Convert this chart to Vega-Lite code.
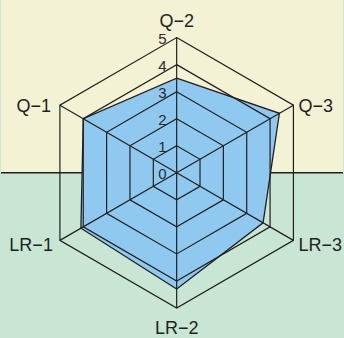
{
  "$schema": "https://vega.github.io/schema/vega-lite/v6.json",
  "width": 344,
  "height": 338,
  "autosize": {"type": "fit", "contains": "padding"},
  "padding": 0,
  "background": "#c8e6d3",
  "config": {"view": {"stroke": null}},
  "datasets": {
    "scores": [
      {"axis": "Q−2", "k": 0, "value": 3.5},
      {"axis": "Q−3", "k": 1, "value": 4.4},
      {"axis": "LR−3", "k": 2, "value": 3.7},
      {"axis": "LR−2", "k": 3, "value": 4.3},
      {"axis": "LR−1", "k": 4, "value": 4.1},
      {"axis": "Q−1", "k": 5, "value": 4.0}
    ],
    "grid": [
      {"level": 1, "k": 0}, {"level": 1, "k": 1}, {"level": 1, "k": 2}, {"level": 1, "k": 3}, {"level": 1, "k": 4}, {"level": 1, "k": 5},
      {"level": 2, "k": 0}, {"level": 2, "k": 1}, {"level": 2, "k": 2}, {"level": 2, "k": 3}, {"level": 2, "k": 4}, {"level": 2, "k": 5},
      {"level": 3, "k": 0}, {"level": 3, "k": 1}, {"level": 3, "k": 2}, {"level": 3, "k": 3}, {"level": 3, "k": 4}, {"level": 3, "k": 5},
      {"level": 4, "k": 0}, {"level": 4, "k": 1}, {"level": 4, "k": 2}, {"level": 4, "k": 3}, {"level": 4, "k": 4}, {"level": 4, "k": 5},
      {"level": 5, "k": 0}, {"level": 5, "k": 1}, {"level": 5, "k": 2}, {"level": 5, "k": 3}, {"level": 5, "k": 4}, {"level": 5, "k": 5}
    ],
    "ticks": [{"level": 0}, {"level": 1}, {"level": 2}, {"level": 3}, {"level": 4}, {"level": 5}]
  },
  "layer": [
    {
      "data": {"values": [{}]},
      "mark": {"type": "rect", "fill": "#f4f2d5"},
      "encoding": {
        "x": {"datum": -6.515, "type": "quantitative", "scale": {"domain": [-6.515, 6.169], "nice": false, "zero": false}, "axis": null},
        "x2": {"datum": 6.169},
        "y": {"datum": 0, "type": "quantitative", "scale": {"domain": [-6.073, 6.39], "nice": false, "zero": false}, "axis": null},
        "y2": {"datum": 6.39}
      }
    },
    {
      "data": {"values": [{}]},
      "mark": {"type": "rule", "stroke": "#231f20", "strokeWidth": 1.5},
      "encoding": {
        "x": {"datum": -6.515, "type": "quantitative", "scale": {"domain": [-6.515, 6.169], "nice": false, "zero": false}, "axis": null},
        "x2": {"datum": 6.169},
        "y": {"datum": 0, "type": "quantitative", "scale": {"domain": [-6.073, 6.39], "nice": false, "zero": false}, "axis": null}
      }
    },
    {
      "data": {"name": "scores"},
      "transform": [
        {"calculate": "datum.value * cos(PI / 2 - datum.k * PI / 3)", "as": "x"},
        {"calculate": "datum.value * sin(PI / 2 - datum.k * PI / 3)", "as": "y"}
      ],
      "mark": {"type": "line", "interpolate": "linear-closed", "fill": "#8fc9ef", "stroke": "#231f20", "strokeWidth": 1.3},
      "encoding": {
        "x": {"field": "x", "type": "quantitative", "scale": {"domain": [-6.515, 6.169], "nice": false, "zero": false}, "axis": null},
        "y": {"field": "y", "type": "quantitative", "scale": {"domain": [-6.073, 6.39], "nice": false, "zero": false}, "axis": null},
        "order": {"field": "k", "type": "quantitative"}
      }
    },
    {
      "data": {"name": "grid"},
      "transform": [
        {"calculate": "datum.level * cos(PI / 2 - datum.k * PI / 3)", "as": "x"},
        {"calculate": "datum.level * sin(PI / 2 - datum.k * PI / 3)", "as": "y"}
      ],
      "mark": {"type": "line", "interpolate": "linear-closed", "stroke": "#231f20", "strokeWidth": 1.2},
      "encoding": {
        "x": {"field": "x", "type": "quantitative", "scale": {"domain": [-6.515, 6.169], "nice": false, "zero": false}, "axis": null},
        "y": {"field": "y", "type": "quantitative", "scale": {"domain": [-6.073, 6.39], "nice": false, "zero": false}, "axis": null},
        "detail": {"field": "level", "type": "nominal"},
        "order": {"field": "k", "type": "quantitative"}
      }
    },
    {
      "data": {"name": "scores"},
      "transform": [
        {"calculate": "5 * cos(PI / 2 - datum.k * PI / 3)", "as": "sx"},
        {"calculate": "5 * sin(PI / 2 - datum.k * PI / 3)", "as": "sy"}
      ],
      "mark": {"type": "rule", "stroke": "#231f20", "strokeWidth": 1.2},
      "encoding": {
        "x": {"field": "sx", "type": "quantitative", "scale": {"domain": [-6.515, 6.169], "nice": false, "zero": false}, "axis": null},
        "y": {"field": "sy", "type": "quantitative", "scale": {"domain": [-6.073, 6.39], "nice": false, "zero": false}, "axis": null},
        "x2": {"datum": 0},
        "y2": {"datum": 0}
      }
    },
    {
      "data": {"name": "ticks"},
      "mark": {"type": "text", "align": "right", "baseline": "middle", "dx": -10, "dy": 1, "font": "Liberation Sans Narrow, Liberation Sans, sans-serif", "fontSize": 15, "fill": "#2b2b2b"},
      "encoding": {
        "x": {"datum": 0, "type": "quantitative", "scale": {"domain": [-6.515, 6.169], "nice": false, "zero": false}, "axis": null},
        "y": {"field": "level", "type": "quantitative", "scale": {"domain": [-6.073, 6.39], "nice": false, "zero": false}, "axis": null},
        "text": {"field": "level", "type": "quantitative"}
      }
    },
    {
      "data": {"name": "scores"},
      "transform": [
        {"filter": "datum.k == 0"},
        {"calculate": "5 * cos(PI / 2 - datum.k * PI / 3)", "as": "sx"},
        {"calculate": "5 * sin(PI / 2 - datum.k * PI / 3)", "as": "sy"}
      ],
      "mark": {"type": "text", "align": "center", "baseline": "alphabetic", "dy": -10.4, "font": "Liberation Sans", "fontSize": 18, "fill": "#231f20"},
      "encoding": {
        "x": {"field": "sx", "type": "quantitative", "scale": {"domain": [-6.515, 6.169], "nice": false, "zero": false}, "axis": null},
        "y": {"field": "sy", "type": "quantitative", "scale": {"domain": [-6.073, 6.39], "nice": false, "zero": false}, "axis": null},
        "text": {"field": "axis", "type": "nominal"}
      }
    },
    {
      "data": {"name": "scores"},
      "transform": [
        {"filter": "datum.k == 3"},
        {"calculate": "5 * cos(PI / 2 - datum.k * PI / 3)", "as": "sx"},
        {"calculate": "5 * sin(PI / 2 - datum.k * PI / 3)", "as": "sy"}
      ],
      "mark": {"type": "text", "align": "center", "baseline": "alphabetic", "dy": 26, "font": "Liberation Sans", "fontSize": 18, "fill": "#231f20"},
      "encoding": {
        "x": {"field": "sx", "type": "quantitative", "scale": {"domain": [-6.515, 6.169], "nice": false, "zero": false}, "axis": null},
        "y": {"field": "sy", "type": "quantitative", "scale": {"domain": [-6.073, 6.39], "nice": false, "zero": false}, "axis": null},
        "text": {"field": "axis", "type": "nominal"}
      }
    },
    {
      "data": {"name": "scores"},
      "transform": [
        {"filter": "datum.k == 1"},
        {"calculate": "5 * cos(PI / 2 - datum.k * PI / 3)", "as": "sx"},
        {"calculate": "5 * sin(PI / 2 - datum.k * PI / 3)", "as": "sy"}
      ],
      "mark": {"type": "text", "align": "left", "baseline": "alphabetic", "dx": 5, "dy": 6.7, "font": "Liberation Sans", "fontSize": 18, "fill": "#231f20"},
      "encoding": {
        "x": {"field": "sx", "type": "quantitative", "scale": {"domain": [-6.515, 6.169], "nice": false, "zero": false}, "axis": null},
        "y": {"field": "sy", "type": "quantitative", "scale": {"domain": [-6.073, 6.39], "nice": false, "zero": false}, "axis": null},
        "text": {"field": "axis", "type": "nominal"}
      }
    },
    {
      "data": {"name": "scores"},
      "transform": [
        {"filter": "datum.k == 2"},
        {"calculate": "5 * cos(PI / 2 - datum.k * PI / 3)", "as": "sx"},
        {"calculate": "5 * sin(PI / 2 - datum.k * PI / 3)", "as": "sy"}
      ],
      "mark": {"type": "text", "align": "left", "baseline": "alphabetic", "dx": 5, "dy": 10.6, "font": "Liberation Sans", "fontSize": 18, "fill": "#231f20"},
      "encoding": {
        "x": {"field": "sx", "type": "quantitative", "scale": {"domain": [-6.515, 6.169], "nice": false, "zero": false}, "axis": null},
        "y": {"field": "sy", "type": "quantitative", "scale": {"domain": [-6.073, 6.39], "nice": false, "zero": false}, "axis": null},
        "text": {"field": "axis", "type": "nominal"}
      }
    },
    {
      "data": {"name": "scores"},
      "transform": [
        {"filter": "datum.k == 4"},
        {"calculate": "5 * cos(PI / 2 - datum.k * PI / 3)", "as": "sx"},
        {"calculate": "5 * sin(PI / 2 - datum.k * PI / 3)", "as": "sy"}
      ],
      "mark": {"type": "text", "align": "right", "baseline": "alphabetic", "dx": -7, "dy": 10.6, "font": "Liberation Sans", "fontSize": 18, "fill": "#231f20"},
      "encoding": {
        "x": {"field": "sx", "type": "quantitative", "scale": {"domain": [-6.515, 6.169], "nice": false, "zero": false}, "axis": null},
        "y": {"field": "sy", "type": "quantitative", "scale": {"domain": [-6.073, 6.39], "nice": false, "zero": false}, "axis": null},
        "text": {"field": "axis", "type": "nominal"}
      }
    },
    {
      "data": {"name": "scores"},
      "transform": [
        {"filter": "datum.k == 5"},
        {"calculate": "5 * cos(PI / 2 - datum.k * PI / 3)", "as": "sx"},
        {"calculate": "5 * sin(PI / 2 - datum.k * PI / 3)", "as": "sy"}
      ],
      "mark": {"type": "text", "align": "right", "baseline": "alphabetic", "dx": -9, "dy": 6.5, "font": "Liberation Sans", "fontSize": 18, "fill": "#231f20"},
      "encoding": {
        "x": {"field": "sx", "type": "quantitative", "scale": {"domain": [-6.515, 6.169], "nice": false, "zero": false}, "axis": null},
        "y": {"field": "sy", "type": "quantitative", "scale": {"domain": [-6.073, 6.39], "nice": false, "zero": false}, "axis": null},
        "text": {"field": "axis", "type": "nominal"}
      }
    }
  ]
}
